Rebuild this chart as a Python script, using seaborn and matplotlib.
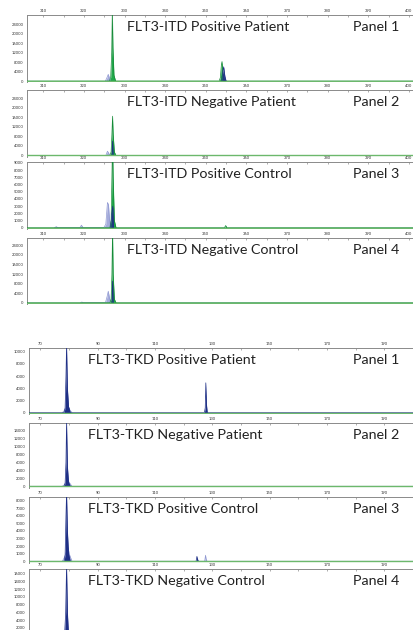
import numpy as np
import seaborn as sns
import matplotlib.pyplot as plt
from matplotlib.ticker import MultipleLocator

# ---- data (size in bp, signal in RFU) ----
itd_titles = ["FLT3-ITD Positive Patient", "FLT3-ITD Negative Patient",
              "FLT3-ITD Positive Control", "FLT3-ITD Negative Control"]
tkd_titles = ["FLT3-TKD Positive Patient", "FLT3-TKD Negative Patient",
              "FLT3-TKD Positive Control", "FLT3-TKD Negative Control"]
panel_labels = ["Panel 1", "Panel 2", "Panel 3", "Panel 4"]

itd_xticks = [310, 320, 330, 340, 350, 360, 370, 380, 390, 400]
tkd_xticks = [70, 90, 110, 130, 150, 170, 190]

itd1_green_x = [306, 326.3, 326.6, 326.85, 327.0, 327.15, 327.4, 327.8, 353.3, 353.6, 353.85, 354.0, 354.2, 354.6, 401]
itd1_green_y = [0, 0, 1500, 12000, 30000, 14000, 2500, 0, 0, 1500, 7000, 8200, 3000, 0, 0]
itd1_navy_x = [353.9, 354.2, 354.4, 354.7, 355.0]
itd1_navy_y = [0, 4000, 6000, 2000, 0]
itd1_lav_x = [325.3, 325.7, 326.0, 326.3, 326.6]
itd1_lav_y = [0, 1500, 2800, 1200, 0]

itd2_green_x = [306, 326.4, 326.7, 326.9, 327.05, 327.2, 327.5, 327.9, 401]
itd2_green_y = [0, 0, 1500, 9000, 16500, 9000, 1500, 0, 0]
itd2_navy_x = [326.9, 327.05, 327.2]
itd2_navy_y = [0, 6000, 0]
itd2_lav_x = [325.4, 325.8, 326.1, 326.4]
itd2_lav_y = [0, 1800, 1000, 0]

itd3_green_x = [306, 326.4, 326.7, 326.9, 327.05, 327.2, 327.5, 327.9, 354.6, 354.9, 355.2, 401]
itd3_green_y = [0, 0, 1000, 7000, 12000, 7000, 1000, 0, 0, 300, 0, 0]
itd3_navy_x = [326.6, 326.85, 327.1, 327.3]
itd3_navy_y = [0, 2000, 3000, 0]
itd3_lav_x = [312.8, 313.2, 313.6, 319.0, 319.4, 319.8, 324.9, 325.4, 325.8, 326.05, 326.3, 326.6]
itd3_lav_y = [0, 150, 0, 0, 350, 0, 0, 500, 3500, 3200, 1200, 0]

itd4_green_x = [306, 326.4, 326.7, 326.9, 327.05, 327.2, 327.5, 327.9, 401]
itd4_green_y = [0, 0, 1500, 12000, 30000, 12000, 1500, 0, 0]
itd4_navy_x = [326.9, 327.05, 327.2]
itd4_navy_y = [0, 9000, 0]
itd4_lav_x = [319.2, 319.5, 319.8, 325.3, 325.7, 326.0, 326.3, 326.6]
itd4_lav_y = [0, 300, 0, 0, 2500, 4800, 2000, 0]

tkd1_navy_x = [66, 78.2, 78.6, 78.9, 79.1, 79.4, 79.8, 80.4, 127.2, 127.5, 127.7, 127.9, 128.2, 200]
tkd1_navy_y = [0, 0, 800, 6000, 11000, 4000, 1000, 0, 0, 800, 4900, 1500, 0, 0]
tkd1_lav_x = [77.6, 78.2, 79.6, 80.2, 81.0]
tkd1_lav_y = [0, 300, 1200, 500, 0]

tkd2_navy_x = [66, 78.2, 78.6, 78.9, 79.1, 79.4, 79.8, 80.4, 200]
tkd2_navy_y = [0, 0, 800, 6000, 16000, 5000, 1000, 0, 0]
tkd2_lav_x = [77.6, 78.2, 79.6, 80.2, 81.0]
tkd2_lav_y = [0, 300, 1500, 800, 0]

tkd3_navy_x = [66, 78.2, 78.6, 78.9, 79.1, 79.4, 79.8, 80.4, 124.3, 124.6, 124.8, 125.1, 200]
tkd3_navy_y = [0, 0, 800, 6000, 9000, 4000, 1000, 0, 0, 650, 300, 0, 0]
tkd3_lav_x = [77.6, 78.2, 79.6, 80.2, 81.0, 127.3, 127.6, 127.8, 128.1]
tkd3_lav_y = [0, 400, 1800, 800, 0, 0, 800, 300, 0]

tkd4_navy_x = [66, 78.4, 78.8, 79.1, 79.4, 79.8, 200]
tkd4_navy_y = [0, 0, 6000, 18000, 6000, 0, 0]
tkd4_lav_x = [78.0, 78.6, 79.7, 80.3]
tkd4_lav_y = [0, 600, 1200, 0]

# ---- styling ----
sns.set_style("white")
plt.rcParams["font.family"] = ["Lato", "DejaVu Sans"]

GREEN = "#20a84a"
GREEN_EDGE = "#168a38"
BASE = "#6cb86c"
NAVY = "#1e2f86"
LAV = "#8f98d2"
SPINE = "#8a8a8a"

fig = plt.figure(figsize=(4.13, 6.30), dpi=100)
W, H = 413.0, 630.0


def make_ax(left, top, bottom, right=413):
    return fig.add_axes([left / W, 1 - bottom / H, (right - left) / W, (bottom - top) / H])


def trace(ax, xs, ys, face, edge, alpha=1.0, z=2):
    ax.fill_between(xs, ys, 0, color=face, alpha=alpha, lw=0, zorder=z)
    sns.lineplot(x=xs, y=ys, ax=ax, color=edge, lw=0.5, estimator=None, sort=False, zorder=z + 0.1)


def style(ax, xlim, ylim, xticks, xminor, ystep, ytop, title, tx, panel):
    ax.set_xlim(*xlim)
    ax.set_ylim(*ylim)
    ax.axhline(0, color=BASE, lw=1.0, zorder=5)
    ax.xaxis.tick_top()
    ax.set_xticks(xticks)
    ax.set_xticks(np.arange(xticks[0] + xminor, xlim[1], 2 * xminor), minor=True)
    ax.set_yticks(np.arange(0, ytop + 1, ystep))
    ax.yaxis.set_minor_locator(MultipleLocator(ystep / 2))
    ax.tick_params(axis="x", which="both", direction="in", length=1.5, width=0.5,
                   colors=SPINE, labelcolor="#333333", labelsize=3, pad=1.5)
    ax.tick_params(axis="y", which="major", direction="out", length=1.5, width=0.5,
                   colors=SPINE, labelcolor="#333333", labelsize=3, pad=1)
    ax.tick_params(axis="y", which="minor", direction="out", length=0.8, width=0.4, colors=SPINE)
    for s in ["bottom", "right"]:
        ax.spines[s].set_visible(False)
    for s in ["top", "left"]:
        ax.spines[s].set_color(SPINE)
        ax.spines[s].set_linewidth(0.7)
    ax.set_xlabel("")
    ax.set_ylabel("")
    ax.text(tx, 0.82, title, transform=ax.transAxes, fontsize=10.3, color="#222222",
            ha="left", va="center")
    ax.text(0.965, 0.82, panel, transform=ax.transAxes, fontsize=10.3, color="#222222",
            ha="right", va="center")


# ---- FLT3-ITD (green sample, blue/lavender traces) ----
itd_rows = [(15, 82, (-420, 27800), 4000, 24000),
            (90, 157, (-630, 27500), 4000, 24000),
            (162, 229, (-180, 9120), 1000, 9000),
            (238, 304, (-540, 27070), 4000, 24000)]
itd_green = [(itd1_green_x, itd1_green_y), (itd2_green_x, itd2_green_y),
             (itd3_green_x, itd3_green_y), (itd4_green_x, itd4_green_y)]
itd_navy = [(itd1_navy_x, itd1_navy_y), (itd2_navy_x, itd2_navy_y),
            (itd3_navy_x, itd3_navy_y), (itd4_navy_x, itd4_navy_y)]
itd_lav = [(itd1_lav_x, itd1_lav_y), (itd2_lav_x, itd2_lav_y),
           (itd3_lav_x, itd3_lav_y), (itd4_lav_x, itd4_lav_y)]

for i, (top, bot, ylim, ystep, ytop) in enumerate(itd_rows):
    ax = make_ax(27, top, bot)
    trace(ax, *itd_lav[i], LAV, LAV, alpha=0.8, z=2)
    trace(ax, *itd_green[i], GREEN, GREEN_EDGE, z=3)
    trace(ax, *itd_navy[i], NAVY, NAVY, alpha=0.9, z=4)
    style(ax, (306, 401), ylim, itd_xticks, 5, ystep, ytop, itd_titles[i], 0.26, panel_labels[i])

# ---- FLT3-TKD (blue traces) ----
tkd_rows = [(348, 414, (-210, 10610), 2000, 10000),
            (423, 488, (-425, 15830), 2000, 14000),
            (497, 563, (-225, 8480), 1000, 8000),
            (569, 637, (-415, 17290), 2000, 16000)]
tkd_navy = [(tkd1_navy_x, tkd1_navy_y), (tkd2_navy_x, tkd2_navy_y),
            (tkd3_navy_x, tkd3_navy_y), (tkd4_navy_x, tkd4_navy_y)]
tkd_lav = [(tkd1_lav_x, tkd1_lav_y), (tkd2_lav_x, tkd2_lav_y),
           (tkd3_lav_x, tkd3_lav_y), (tkd4_lav_x, tkd4_lav_y)]

for i, (top, bot, ylim, ystep, ytop) in enumerate(tkd_rows):
    ax = make_ax(29, top, bot)
    trace(ax, *tkd_lav[i], LAV, LAV, alpha=0.7, z=2)
    trace(ax, *tkd_navy[i], NAVY, NAVY, z=3)
    style(ax, (66, 200), ylim, tkd_xticks, 10, ystep, ytop, tkd_titles[i], 0.154, panel_labels[i])

fig.savefig("out.png", dpi=100)
